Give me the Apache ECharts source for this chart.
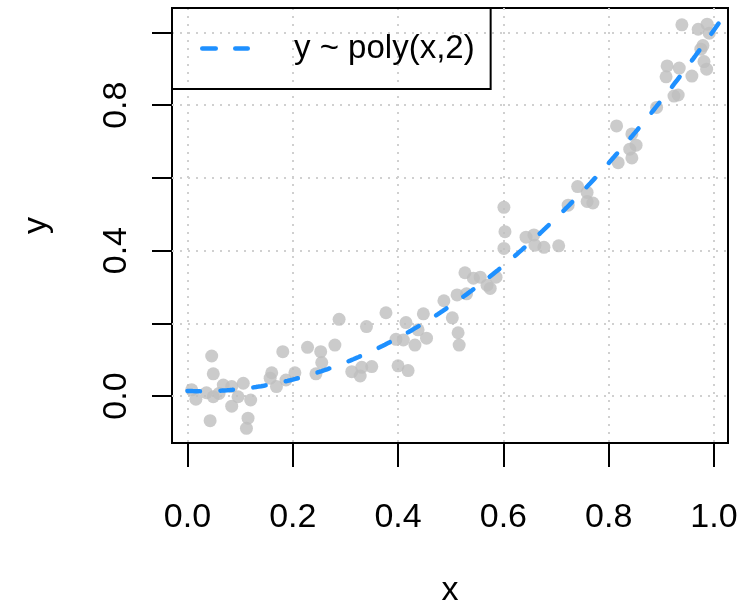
<!DOCTYPE html>
<html>
<head>
<meta charset="utf-8">
<script src="https://cdn.jsdelivr.net/npm/echarts@6/dist/echarts.min.js"></script>
<style>
  html, body { margin: 0; padding: 0; background: #ffffff; }
  #chart { width: 744px; height: 602px; }
</style>
</head>
<body>
<div id="chart"></div>
<script>
// Observed sample
const xValues = [
  0.008, 0.016, 0.046, 0.049, 0.043, 0.036, 0.049, 0.060, 0.068, 0.084,
  0.096, 0.084, 0.106, 0.120, 0.115, 0.112, 0.160, 0.157, 0.169, 0.181,
  0.187, 0.204, 0.228, 0.253, 0.280, 0.255, 0.244, 0.288, 0.312, 0.331,
  0.350, 0.328, 0.340, 0.377, 0.400, 0.419, 0.396, 0.410, 0.415, 0.432,
  0.448, 0.438, 0.454, 0.487, 0.503, 0.514, 0.516, 0.512, 0.530, 0.527,
  0.543, 0.556, 0.569, 0.575, 0.586, 0.601, 0.603, 0.601, 0.643, 0.658,
  0.660, 0.677, 0.705, 0.723, 0.741, 0.759, 0.759, 0.770, 0.815, 0.844,
  0.852, 0.840, 0.818, 0.844, 0.891, 0.924, 0.932, 0.911, 0.909, 0.934,
  0.958, 0.939, 0.970, 0.987, 0.991, 0.979, 0.975, 0.981, 0.986
];
const yValues = [
  0.017, -0.009, 0.110, 0.061, -0.068, 0.009, -0.002, 0.007, 0.030, 0.026,
  -0.002, -0.028, 0.035, -0.011, -0.061, -0.089, 0.064, 0.049, 0.026, 0.122,
  0.044, 0.064, 0.134, 0.122, 0.140, 0.092, 0.061, 0.211, 0.067, 0.079,
  0.081, 0.055, 0.191, 0.229, 0.083, 0.070, 0.156, 0.154, 0.202, 0.140,
  0.226, 0.182, 0.159, 0.262, 0.215, 0.174, 0.140, 0.278, 0.281, 0.339,
  0.324, 0.327, 0.305, 0.296, 0.327, 0.519, 0.452, 0.406, 0.437, 0.443,
  0.415, 0.409, 0.413, 0.525, 0.576, 0.560, 0.535, 0.531, 0.743, 0.721,
  0.690, 0.679, 0.642, 0.655, 0.794, 0.825, 0.828, 0.908, 0.878, 0.902,
  0.880, 1.021, 1.009, 1.023, 0.998, 0.964, 0.954, 0.920, 0.899
];

// Axis ticks and labels
const xTicks = [0, 0.2, 0.4, 0.6, 0.8, 1.0];
const yTicks = [0, 0.2, 0.4, 0.6, 0.8, 1.0];
const yLabelTicks = [0, 0.4, 0.8];
const xRange = [-0.0294, 1.0266];
const yRange = [-0.1293, 1.0674];
const fitName = 'y ~ poly(x,2)';

// Least-squares quadratic fit y = b0 + b1 x + b2 x^2
function quadFit(xs, ys) {
  const S = [[0, 0, 0], [0, 0, 0], [0, 0, 0]];
  const T = [0, 0, 0];
  for (let i = 0; i < xs.length; i++) {
    const p = [1, xs[i], xs[i] * xs[i]];
    for (let r = 0; r < 3; r++) {
      T[r] += p[r] * ys[i];
      for (let c = 0; c < 3; c++) S[r][c] += p[r] * p[c];
    }
  }
  // Gaussian elimination on the normal equations
  const A = S.map((row, r) => row.concat([T[r]]));
  for (let k = 0; k < 3; k++) {
    let piv = k;
    for (let r = k + 1; r < 3; r++) if (Math.abs(A[r][k]) > Math.abs(A[piv][k])) piv = r;
    [A[k], A[piv]] = [A[piv], A[k]];
    for (let r = k + 1; r < 3; r++) {
      const f = A[r][k] / A[k][k];
      for (let c = k; c < 4; c++) A[r][c] -= f * A[k][c];
    }
  }
  const b = [0, 0, 0];
  for (let r = 2; r >= 0; r--) {
    let s = A[r][3];
    for (let c = r + 1; c < 3; c++) s -= A[r][c] * b[c];
    b[r] = s / A[r][r];
  }
  return b;
}

const coef = quadFit(xValues, yValues);
const fitCurve = [];
for (let i = 0; i <= 206; i++) {
  const x = Math.min(i * 0.005, xRange[1]);
  fitCurve.push([x, coef[0] + coef[1] * x + coef[2] * x * x]);
}
const points = xValues.map((x, i) => [x, yValues[i]]);

const FONT = '"Liberation Sans", Arial, Helvetica, sans-serif';
const LINE_BLUE = '#1e90ff';
const gridLine = { show: true, lineStyle: { color: '#d0d0d0', width: 2, type: [2, 6] } };
// two round-ended dashes for the key
const dashIcon = 'path://M2.25,0H15.75A2.25,2.25,0,0,1,15.75,4.5H2.25A2.25,2.25,0,0,1,2.25,0Z' +
                 'M35.25,0H47.75A2.25,2.25,0,0,1,47.75,4.5H35.25A2.25,2.25,0,0,1,35.25,0Z';

const chart = echarts.init(document.getElementById('chart'), null, { renderer: 'canvas' });
chart.setOption({
  animation: false,
  backgroundColor: '#ffffff',
  textStyle: { fontFamily: FONT },
  grid: {
    left: 172, right: 16, top: 8, bottom: 159,
    containLabel: false,
    outerBoundsMode: 'none',
    show: true, borderColor: '#000000', borderWidth: 2, backgroundColor: 'transparent'
  },
  legend: {
    data: [{ name: fitName, icon: dashIcon }],
    left: 172, top: 8,
    padding: [24, 16, 24, 28],
    borderColor: '#000000', borderWidth: 2,
    itemWidth: 50, itemHeight: 4.5,
    symbolKeepAspect: false,
    selectedMode: false,
    itemStyle: { color: LINE_BLUE, borderWidth: 0 },
    textStyle: { fontSize: 33, color: '#000000', fontFamily: FONT, padding: [0, 0, 0, 39] }
  },
  xAxis: {
    type: 'value',
    min: xRange[0], max: xRange[1],
    name: 'x', nameLocation: 'middle', nameGap: 131,
    nameTextStyle: { fontSize: 34, color: '#000000', fontFamily: FONT },
    axisLine: { show: false, onZero: false },
    axisTick: { show: true, inside: false, length: 24, customValues: xTicks,
                lineStyle: { color: '#000000', width: 2 } },
    axisLabel: { customValues: xTicks, margin: 58, fontSize: 34, color: '#000000', fontFamily: FONT,
                 formatter: v => v.toFixed(1) },
    splitLine: gridLine
  },
  yAxis: {
    type: 'value',
    min: yRange[0], max: yRange[1],
    name: 'y', nameLocation: 'middle', nameGap: 118,
    nameTextStyle: { fontSize: 34, color: '#000000', fontFamily: FONT },
    axisLine: { show: false, onZero: false },
    axisTick: { show: true, inside: false, length: 20, customValues: yTicks,
                lineStyle: { color: '#000000', width: 2 } },
    axisLabel: { customValues: yLabelTicks, rotate: 90, margin: 38, fontSize: 34, color: '#000000',
                 fontFamily: FONT, formatter: v => v.toFixed(1) },
    splitLine: gridLine
  },
  series: [
    {
      name: 'points',
      type: 'scatter',
      data: points,
      symbol: 'circle',
      symbolSize: 13,
      itemStyle: { color: '#bebebe' },
      z: 2
    },
    {
      name: fitName,
      type: 'line',
      data: fitCurve,
      symbol: 'none',
      showSymbol: false,
      clip: true,
      itemStyle: { color: LINE_BLUE },
      lineStyle: { color: LINE_BLUE, width: 4.5, type: [12.5, 20.5], cap: 'round' },
      z: 3
    }
  ]
});
</script>
</body>
</html>
